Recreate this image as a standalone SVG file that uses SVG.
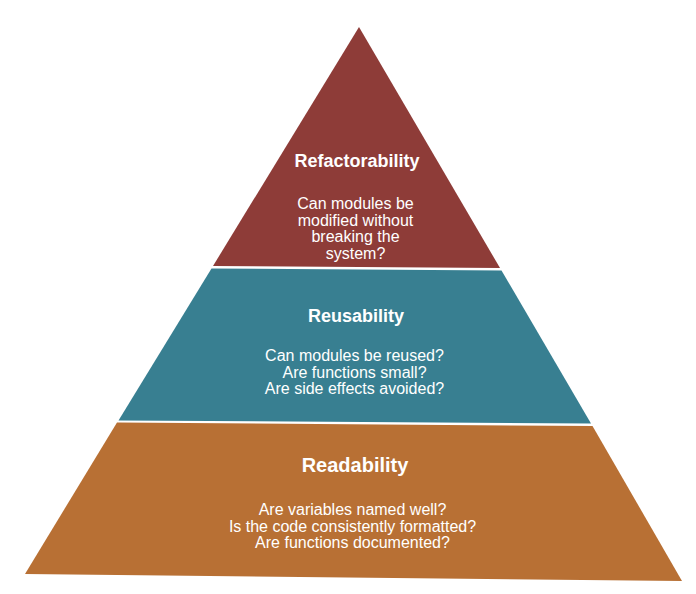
<svg xmlns="http://www.w3.org/2000/svg" width="696" height="594" viewBox="0 0 696 594">
<style>
.title{font-family:"Liberation Sans",Arial,sans-serif;font-weight:bold;fill:#ffffff;text-anchor:middle}
.body{font-family:"Liberation Sans",Arial,sans-serif;font-size:16px;fill:#ffffff;text-anchor:middle}
</style>
<rect width="696" height="594" fill="#ffffff"/>
<g id="refactorability">
<polygon points="359,27 500,268 213,266" fill="#8E3C38"/>
<text class="title" x="357" y="167" font-size="18">Refactorability</text>
<text class="body" x="355.5" y="209">Can modules be</text>
<text class="body" x="355.5" y="225.7">modified without</text>
<text class="body" x="355.5" y="242.3">breaking the</text>
<text class="body" x="355.5" y="259">system?</text>
</g>
<g id="reusability">
<polygon points="211.5,268.5 501.5,270.5 591,423.5 118.5,420.5" fill="#387F91"/>
<text class="title" x="356" y="321.5" font-size="18">Reusability</text>
<text class="body" x="354.5" y="361">Can modules be reused?</text>
<text class="body" x="354.5" y="377.5">Are functions small?</text>
<text class="body" x="354.5" y="394">Are side effects avoided?</text>
</g>
<g id="readability">
<polygon points="117,422.5 592.5,426 682,581 25,574" fill="#B87034"/>
<text class="title" x="355" y="471.5" font-size="20">Readability</text>
<text class="body" x="352.5" y="515">Are variables named well?</text>
<text class="body" x="352.5" y="531.7">Is the code consistently formatted?</text>
<text class="body" x="352.5" y="548.3">Are functions documented?</text>
</g>
</svg>
